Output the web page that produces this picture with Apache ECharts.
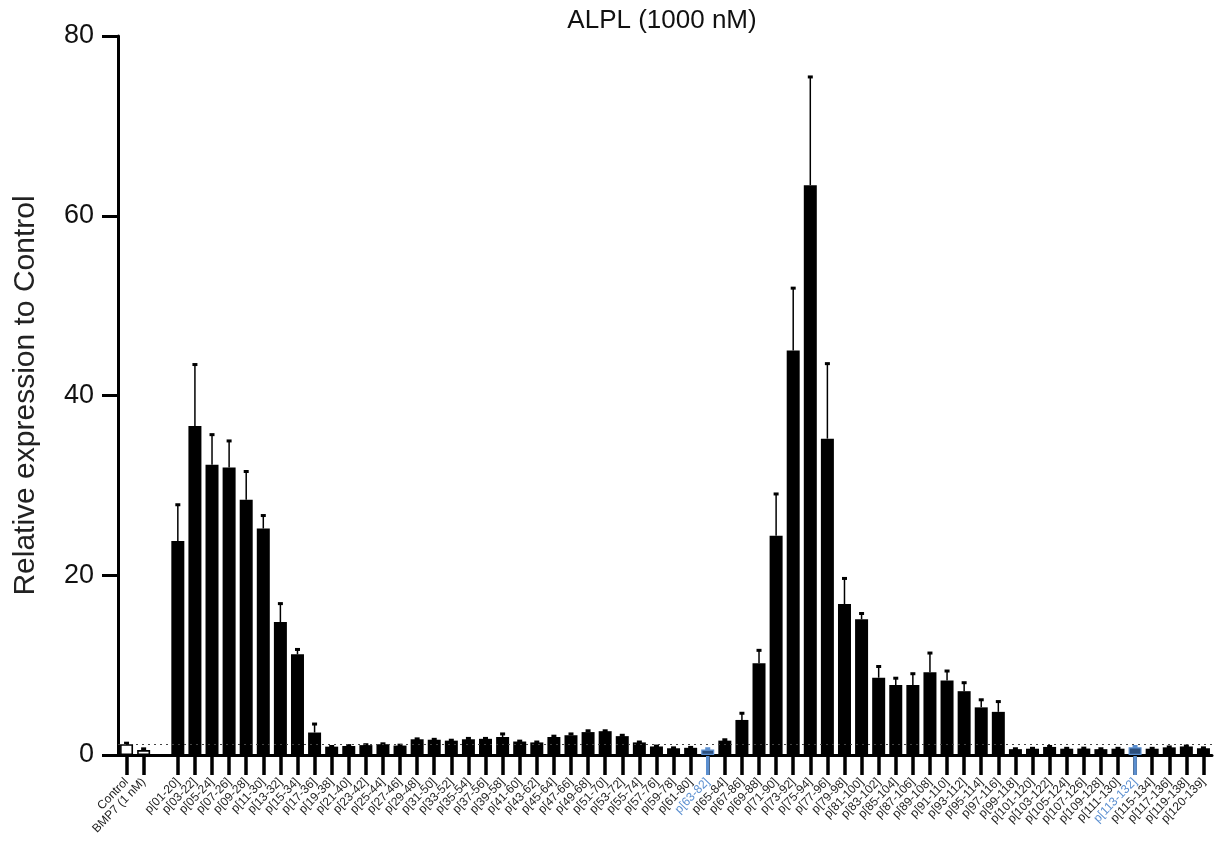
<!DOCTYPE html>
<html><head><meta charset="utf-8">
<script src="https://cdn.jsdelivr.net/npm/echarts@6/dist/echarts.min.js"></script>
<style>html,body{margin:0;padding:0;background:#fff}#c{width:1220px;height:849px}</style>
</head><body><div id="c"></div>
<script>
const titleText = 'ALPL (1000 nM)';
const yAxisName = 'Relative expression to Control';
const yMin = 0, yMax = 80, yStep = 20;

const controlLabels = ['Control', 'BMP7 (1 nM)'];
const controlMeans = [1.2, 0.55];
const controlUpper = [1.37, 0.74];

const peptideLabels = [
  'p[01-20]','p[03-22]','p[05-24]','p[07-26]','p[09-28]','p[11-30]','p[13-32]','p[15-34]','p[17-36]','p[19-38]',
  'p[21-40]','p[23-42]','p[25-44]','p[27-46]','p[29-48]','p[31-50]','p[33-52]','p[35-54]','p[37-56]','p[39-58]',
  'p[41-60]','p[43-62]','p[45-64]','p[47-66]','p[49-68]','p[51-70]','p[53-72]','p[55-74]','p[57-76]','p[59-78]',
  'p[61-80]','p[63-82]','p[65-84]','p[67-86]','p[69-88]','p[71-90]','p[73-92]','p[75-94]','p[77-96]','p[79-98]',
  'p[81-100]','p[83-102]','p[85-104]','p[87-106]','p[89-108]','p[91-110]','p[93-112]','p[95-114]','p[97-116]','p[99-118]',
  'p[101-120]','p[103-122]','p[105-124]','p[107-126]','p[109-128]','p[111-130]','p[113-132]','p[115-134]','p[117-136]','p[119-138]',
  'p[120-139]'
];
const peptideMeans = [
  23.8, 36.6, 32.3, 32.0, 28.4, 25.2, 14.8, 11.2, 2.5, 0.93,
  1.0, 1.1, 1.2, 1.05, 1.75, 1.7, 1.6, 1.75, 1.8, 2.0,
  1.5, 1.4, 2.0, 2.2, 2.55, 2.65, 2.1, 1.4, 0.95, 0.75,
  0.8, 0.6, 1.6, 3.9, 10.2, 24.4, 45.0, 63.4, 35.2, 16.8,
  15.1, 8.6, 7.8, 7.8, 9.2, 8.3, 7.1, 5.3, 4.8, 0.65,
  0.7, 0.9, 0.7, 0.72, 0.65, 0.7, 0.85, 0.7, 0.85, 0.95,
  0.75
];
const peptideUpper = [
  27.9, 43.5, 35.7, 35.0, 31.6, 26.7, 16.9, 11.8, 3.5, 1.0,
  1.1, 1.2, 1.3, 1.15, 1.85, 1.8, 1.7, 1.9, 1.9, 2.4,
  1.6, 1.5, 2.15, 2.4, 2.75, 2.75, 2.25, 1.5, 1.05, 0.85,
  0.9, 0.75, 1.75, 4.7, 11.7, 29.1, 52.0, 75.5, 43.6, 19.7,
  15.8, 9.9, 8.6, 9.1, 11.4, 9.4, 8.1, 6.2, 6.0, 0.75,
  0.8, 1.0, 0.8, 0.82, 0.75, 0.8, 1.0, 0.8, 0.95, 1.05,
  0.85
];
const highlightLabels = ['p[63-82]', 'p[113-132]'];

const BLUE = '#5b8fd0';
const categories = controlLabels.concat([''], peptideLabels);
const means = controlMeans.concat([null], peptideMeans);
const uppers = controlUpper.concat([null], peptideUpper);
const isHL = c => highlightLabels.indexOf(c) >= 0;

const barData = categories.map((c, i) => {
  if (means[i] == null) return '-';
  let st;
  if (i < controlLabels.length) st = {color: '#fff', borderColor: '#000', borderWidth: 1.6};
  else if (isHL(c)) st = {color: '#2c4f7d', borderColor: BLUE, borderWidth: 1.2};
  else st = {color: '#000'};
  return {value: means[i], itemStyle: st};
});
const errData = [];
categories.forEach((c, i) => { if (means[i] != null) errData.push([i, means[i], uppers[i]]); });
const hlData = [];
categories.forEach((c, i) => { if (isHL(c)) hlData.push([i, 0]); });

const chart = echarts.init(document.getElementById('c'), null, {renderer: 'canvas'});
chart.setOption({
  animation: false,
  backgroundColor: '#fff',
  textStyle: {fontFamily: 'Liberation Sans'},
  title: {
    text: titleText, left: 657, top: 3, textAlign: 'center',
    textStyle: {fontSize: 26, fontWeight: 'normal', color: '#111', fontFamily: 'Liberation Sans'}
  },
  grid: {left: 118, right: 8, top: 36, bottom: 94},
  xAxis: {
    type: 'category', data: categories, boundaryGap: true,
    axisLine: {show: true, lineStyle: {color: '#000', width: 3}},
    axisTick: {show: true, alignWithLabel: true, length: 20, lineStyle: {color: '#000', width: 3.5},
      interval: (idx, val) => val !== ''},
    axisLabel: {interval: 0, rotate: 46, fontSize: 12, margin: 25,
      color: (val) => isHL(val) ? BLUE : '#222'},
    splitLine: {show: false}
  },
  yAxis: {
    type: 'value', min: yMin, max: yMax, interval: yStep,
    name: yAxisName, nameLocation: 'middle', nameRotate: 90, nameGap: 77,
    nameTextStyle: {fontSize: 30, color: '#222'},
    axisLine: {show: true, lineStyle: {color: '#000', width: 3}},
    axisTick: {show: true, length: 16, lineStyle: {color: '#000', width: 3}},
    axisLabel: {fontSize: 27, color: '#111', margin: 24},
    splitLine: {show: false}
  },
  series: [
    {
      type: 'scatter', data: [], z: 1, silent: true,
      markLine: {silent: true, symbol: 'none', label: {show: false},
        lineStyle: {type: [2, 4], color: '#444', width: 1},
        data: [{yAxis: controlMeans[0]}]}
    },
    {type: 'bar', data: barData, barWidth: 13, z: 2, silent: true},
    {
      type: 'custom', data: errData, z: 3, silent: true, encode: {x: 0, y: 2},
      renderItem: (params, api) => {
        const i = api.value(0);
        const top = api.coord([i, api.value(1)]);
        const up = api.coord([i, api.value(2)]);
        const col = isHL(categories[i]) ? BLUE : '#000';
        return {type: 'group', children: [
          {type: 'line', shape: {x1: top[0], y1: top[1], x2: up[0], y2: up[1]}, style: {stroke: col, lineWidth: 1.5}},
          {type: 'rect', shape: {x: up[0] - 2.5, y: up[1] - 1, width: 5, height: 3}, style: {fill: col}}
        ]};
      }
    },
    {
      type: 'custom', data: hlData, z: 4, silent: true, clip: false, encode: {x: 0, y: 1},
      renderItem: (params, api) => {
        const p = api.coord([api.value(0), api.value(1)]);
        return {type: 'line', shape: {x1: p[0], y1: p[1] + 1, x2: p[0], y2: p[1] + 20}, style: {stroke: BLUE, lineWidth: 3.5}};
      }
    }
  ]
});
</script></body></html>
